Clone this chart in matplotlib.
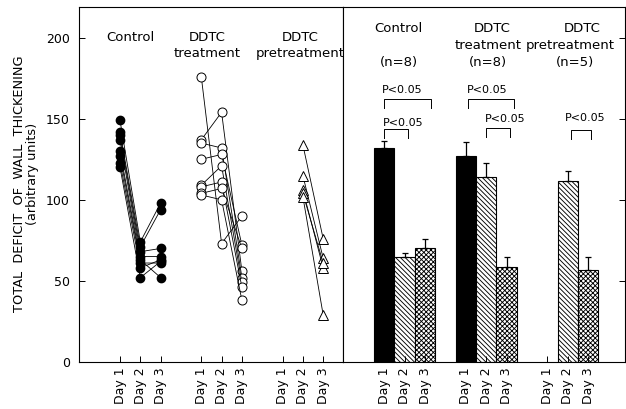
import numpy as np
import matplotlib
matplotlib.use("Agg")
import matplotlib.pyplot as plt

plt.rc('font', family='DejaVu Sans', size=9)
plt.rcParams['hatch.linewidth'] = 0.65

# individual animals (left panel)
ctrl_d1 = [149, 142, 140, 137, 130, 127, 123, 120]
ctrl_d2 = [74, 71, 68, 65, 63, 61, 58, 52]
ctrl_d3 = [98, 94, 70, 65, 52, 61, 63, 62]

ddtc_d1 = [176, 137, 135, 125, 109, 108, 104, 103]
ddtc_d2 = [73, 154, 132, 128, 121, 111, 107, 100]
ddtc_d3 = [90, 56, 52, 72, 49, 46, 70, 38]

pre_d2 = [134, 115, 106, 104, 102]
pre_d3 = [76, 64, 58, 61, 29]

# group means +/- SEM (right panel)
ctrl_mean = [132, 64.5, 70]
ctrl_sem = [4, 2.5, 6]
ddtc_mean = [127, 114, 58.5]
ddtc_sem = [8.5, 8.5, 6.2]
pre_mean = [np.nan, 111.5, 56.6]
pre_sem = [np.nan, 6.5, 8.2]

day_labels = ['Day 1', 'Day 2', 'Day 3'] * 3
day_pos = [2, 3, 4, 6, 7, 8, 10, 11, 12]

fig = plt.figure(figsize=(6.26, 4.09), dpi=100)
ax1 = fig.add_axes([0.1268, 0.1152, 0.4219, 0.8678])
ax2 = fig.add_axes([0.5487, 0.1152, 0.4497, 0.8678])

# ---- left panel: individual lines
for a, b, c in zip(ctrl_d1, ctrl_d2, ctrl_d3):
    ax1.plot([2, 3, 4], [a, b, c], color='black', lw=0.6, marker='o', ms=6,
             mfc='black', mec='black')
for a, b, c in zip(ddtc_d1, ddtc_d2, ddtc_d3):
    ax1.plot([6, 7, 8], [a, b, c], color='black', lw=0.6, marker='o', ms=6.5,
             mfc='white', mec='black', mew=0.7)
for b, c in zip(pre_d2, pre_d3):
    ax1.plot([11, 12], [b, c], color='black', lw=0.6, marker='^', ms=6.5,
             mfc='white', mec='black', mew=0.7)

ax1.text(2.5, 200, 'Control', ha='center', va='center', fontsize=9.5)
ax1.text(6.3, 200, 'DDTC', ha='center', va='center', fontsize=9.5)
ax1.text(6.3, 190.5, 'treatment', ha='center', va='center', fontsize=9.5)
ax1.text(10.85, 200, 'DDTC', ha='center', va='center', fontsize=9.5)
ax1.text(10.85, 190.5, 'pretreatment', ha='center', va='center', fontsize=9.5)

ax1.set_xlim(0, 13)
ax1.set_ylim(0, 219)
ax1.set_yticks([0, 50, 100, 150, 200])
ax1.tick_params(axis='y', pad=7)

# y label as two separate lines (second line sits a bit higher)
fig.text(0.0304, 0.550, 'TOTAL  DEFICIT  OF  WALL  THICKENING', rotation=90,
         ha='center', va='center', fontsize=9.3)
fig.text(0.0527, 0.5746, '(arbitrary units)', rotation=90,
         ha='center', va='center', fontsize=9.3)

# ---- right panel: bar chart
fills = ['black', 'white', 'white']
hatches = [None, '\\' * 7, 'x' * 7]
for pos0, means, sems in [(2, ctrl_mean, ctrl_sem), (6, ddtc_mean, ddtc_sem),
                          (10, pre_mean, pre_sem)]:
    for i in range(3):
        if np.isnan(means[i]):
            continue
        ax2.bar(pos0 + i, means[i], width=1, color=fills[i], edgecolor='black',
                hatch=hatches[i], linewidth=0.8)
        ax2.errorbar(pos0 + i, means[i], yerr=[[0], [sems[i]]], fmt='none',
                     ecolor='black', elinewidth=0.9, capsize=2, capthick=0.9)


def bracket(x1, x2, y, label, lx, ly):
    ax2.plot([x1, x1, x2, x2], [y - 5.5, y, y, y - 5.5], color='black', lw=0.7)
    ax2.text(lx, ly, label, ha='center', va='center', fontsize=8)


bracket(2.0, 4.3, 162, 'P<0.05', 2.9, 167.5)
bracket(2.0, 3.15, 143.5, 'P<0.05', 2.92, 147.5)
bracket(6.1, 8.35, 162, 'P<0.05', 7.05, 167.5)
bracket(7.0, 8.15, 144.5, 'P<0.05', 7.95, 150)
bracket(11.15, 12.15, 143, 'P<0.05', 11.85, 150.5)

ax2.text(2.7, 205.5, 'Control', ha='center', va='center', fontsize=9.5)
ax2.text(2.7, 185, '(n=8)', ha='center', va='center', fontsize=9.5)
ax2.text(7.3, 205.5, 'DDTC', ha='center', va='center', fontsize=9.5)
ax2.text(7.1, 195.5, 'treatment', ha='center', va='center', fontsize=9.5)
ax2.text(7.1, 185, '(n=8)', ha='center', va='center', fontsize=9.5)
ax2.text(11.7, 205.5, 'DDTC', ha='center', va='center', fontsize=9.5)
ax2.text(11.1, 195.5, 'pretreatment', ha='center', va='center', fontsize=9.5)
ax2.text(11.35, 185, '(n=5)', ha='center', va='center', fontsize=9.5)

ax2.set_xlim(0, 13.8)
ax2.set_ylim(0, 219)
ax2.set_yticks([0, 50, 100, 150, 200])
ax2.yaxis.tick_right()
ax2.tick_params(axis='y', labelright=False)

for ax in (ax1, ax2):
    ax.set_xticks(day_pos)
    ax.set_xticklabels(day_labels, rotation=90, fontsize=9)
    ax.tick_params(direction='in', length=4.5, width=0.7)
    ax.tick_params(axis='x', pad=4)
    for s in ax.spines.values():
        s.set_linewidth(0.8)

fig.savefig('out.png', dpi=100)
